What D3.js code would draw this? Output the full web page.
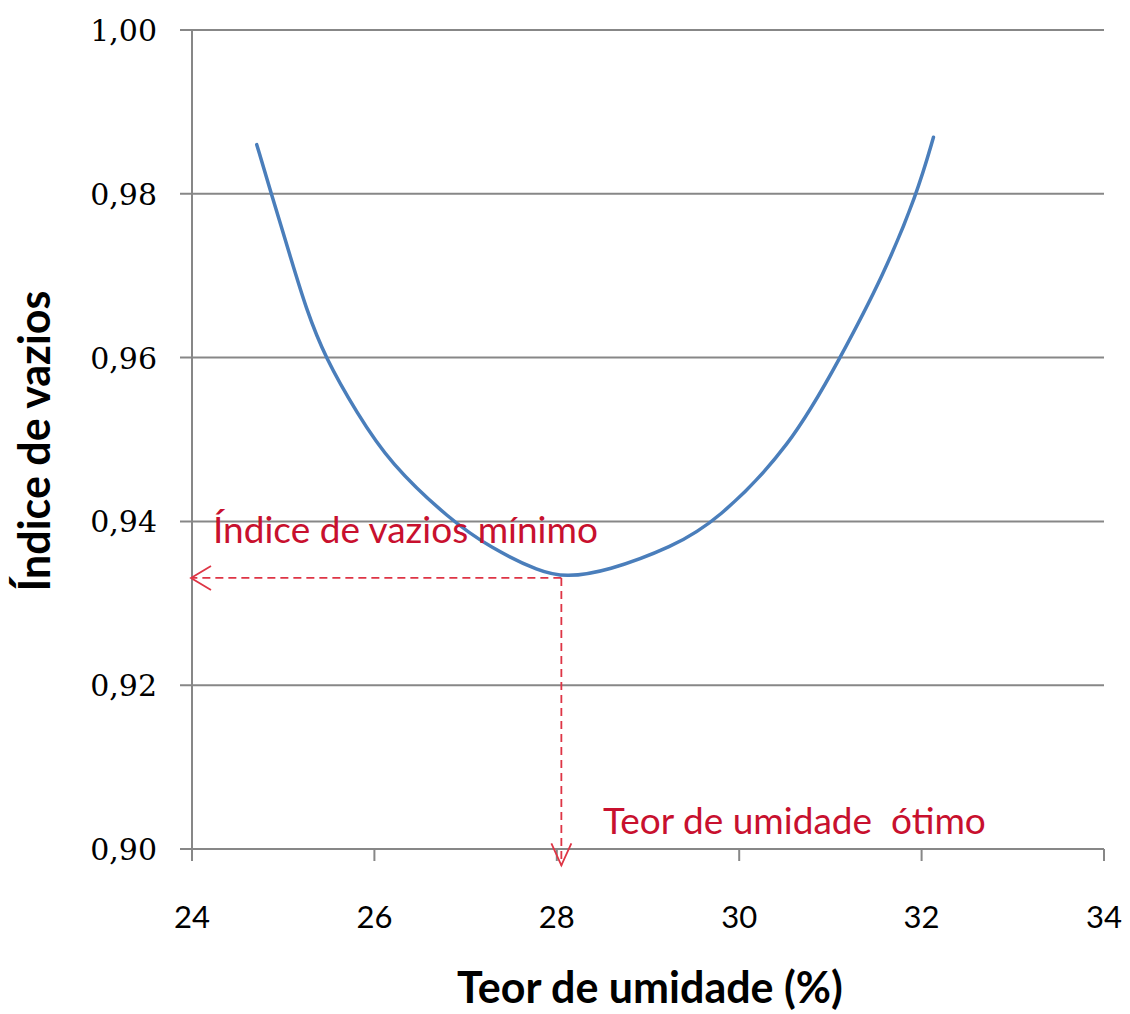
<!DOCTYPE html>
<html lang="pt">
<head>
    <meta charset="UTF-8">
    <title>Índice de vazios</title>
    <script src="https://cdn.jsdelivr.net/npm/d3@7/dist/d3.min.js"></script>
    <style>
        body { margin: 0; background: #fff; }
    </style>
</head>
<body>
<script>
    // dados
    var umidade = [24.71, 24.87, 25.09, 25.25, 25.46, 25.81, 26.17, 26.83, 27.27, 27.82, 28.10, 28.55, 29.27, 29.75, 30.56, 31.11, 31.58, 31.95, 32.13];
    var vazios  = [0.9860, 0.9800, 0.9719, 0.9660, 0.9600, 0.9532, 0.9471, 0.9402, 0.9368, 0.9338, 0.9332, 0.9339, 0.9369, 0.9400, 0.9491, 0.9600, 0.9700, 0.9800, 0.9869];
    var xTicks = [24, 26, 28, 30, 32, 34];
    var yTicks = [0.90, 0.92, 0.94, 0.96, 0.98, 1.00];
    var minPonto = [28.05, 0.9331];   // ponto ótimo
    var fimSeta = [24, 0.898];        // onde as setas terminam

    var width = 1130, height = 1014;
    var svg = d3.select("body").append("svg")
        .attr("width", width)
        .attr("height", height);

    // area do gráfico
    var x = d3.scaleLinear().domain([24, 34]).range([192, 1104]);
    var y = d3.scaleLinear().domain([0.90, 1.00]).range([849, 30]);

    var cinza = "#878787";
    var vermelho = "#de3545";

    // linhas de grade
    svg.append("g").selectAll("line")
        .data(yTicks)
        .enter().append("line")
        .attr("x1", 180).attr("x2", x(34))
        .attr("y1", function (d) { return y(d); })
        .attr("y2", function (d) { return y(d); })
        .attr("stroke", cinza)
        .attr("stroke-width", 2);

    // eixo vertical
    svg.append("line")
        .attr("x1", x(24)).attr("x2", x(24))
        .attr("y1", y(1)).attr("y2", y(0.9))
        .attr("stroke", cinza).attr("stroke-width", 2);

    // marcas do eixo x
    svg.append("g").selectAll("line")
        .data(xTicks)
        .enter().append("line")
        .attr("x1", function (d) { return x(d); })
        .attr("x2", function (d) { return x(d); })
        .attr("y1", y(0.9)).attr("y2", y(0.9) + 12)
        .attr("stroke", cinza).attr("stroke-width", 2);

    // rótulos
    svg.append("g").selectAll("text")
        .data(xTicks)
        .enter().append("text")
        .attr("x", function (d) { return x(d); })
        .attr("y", 928)
        .attr("text-anchor", "middle")
        .style("font-family", "Lato, sans-serif")
        .style("font-size", "31px")
        .text(function (d) { return d; });

    svg.append("g").selectAll("text")
        .data(yTicks)
        .enter().append("text")
        .attr("x", 157)
        .attr("y", function (d) { return y(d) + 11; })
        .attr("text-anchor", "end")
        .style("font-family", "'DejaVu Serif', serif")
        .style("font-size", "30px")
        .text(function (d) { return d.toFixed(2).replace(".", ","); });

    // títulos dos eixos
    svg.append("text")
        .attr("x", 650).attr("y", 1003)
        .attr("text-anchor", "middle")
        .style("font-family", "Lato, sans-serif")
        .style("font-weight", "bold")
        .style("font-size", "43px")
        .text("Teor de umidade (%)");

    svg.append("text")
        .attr("transform", "translate(50,441) rotate(-90)")
        .attr("text-anchor", "middle")
        .style("font-family", "Lato, sans-serif")
        .style("font-weight", "bold")
        .style("font-size", "43px")
        .text("Índice de vazios");

    // curva (suavizada)
    var pontos = d3.zip(umidade, vazios);
    var linha = d3.line()
        .x(function (d) { return x(d[0]); })
        .y(function (d) { return y(d[1]); })
        .curve(d3.curveBasis);

    svg.append("path")
        .datum(pontos)
        .attr("d", linha)
        .attr("fill", "none")
        .attr("stroke", "#4a7ebb")
        .attr("stroke-width", 3.5)
        .attr("stroke-linecap", "round");

    // linhas tracejadas até os eixos
    var mx = x(minPonto[0]), my = y(minPonto[1]);
    var ax = x(fimSeta[0]) - 1, ay = y(fimSeta[1]);

    svg.append("line")
        .attr("x1", mx).attr("y1", my)
        .attr("x2", ax).attr("y2", my)
        .attr("stroke", vermelho).attr("stroke-width", 1.8)
        .attr("stroke-dasharray", "8,5");

    svg.append("line")
        .attr("x1", mx).attr("y1", my)
        .attr("x2", mx).attr("y2", ay)
        .attr("stroke", vermelho).attr("stroke-width", 1.8)
        .attr("stroke-dasharray", "8,5");

    // pontas das setas (abertas)
    svg.append("path")
        .attr("d", "M" + (ax + 20) + "," + (my - 12) + "L" + ax + "," + my + "L" + (ax + 20) + "," + (my + 12))
        .attr("fill", "none").attr("stroke", vermelho).attr("stroke-width", 1.8);

    svg.append("path")
        .attr("d", "M" + (mx - 10) + "," + (ay - 22) + "L" + mx + "," + ay + "L" + (mx + 10) + "," + (ay - 22))
        .attr("fill", "none").attr("stroke", vermelho).attr("stroke-width", 1.8);

    // anotações
    svg.append("text")
        .attr("x", 213).attr("y", 543)
        .attr("fill", "#c8102e")
        .style("font-family", "Lato, sans-serif")
        .style("font-size", "37px")
        .text("Índice de vazios mínimo");

    svg.append("text")
        .attr("x", 603).attr("y", 834)
        .attr("fill", "#c8102e")
        .style("font-family", "Lato, sans-serif")
        .style("font-size", "37px")
        .style("white-space", "pre")
        .text("Teor de umidade  ótimo");
</script>
</body>
</html>
